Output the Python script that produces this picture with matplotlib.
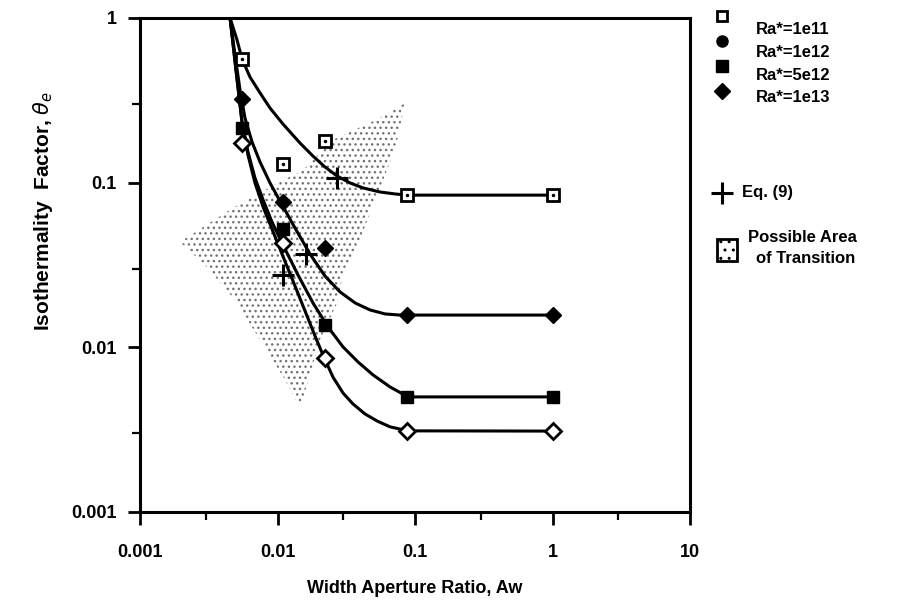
import matplotlib
matplotlib.use("Agg")
import matplotlib.pyplot as plt
from matplotlib.lines import Line2D
from matplotlib.patches import Polygon, Rectangle
from matplotlib.ticker import FixedLocator, NullFormatter

plt.rcParams['font.family'] = ['Liberation Sans', 'DejaVu Sans']
plt.rcParams['hatch.linewidth'] = 1.0

# measured points (Aw, theta_e)
aw = [0.0055, 0.011, 0.022, 0.088, 1.0]
ra_1e11 = [0.56, 0.13, 0.18, 0.084, 0.084]
ra_1e12 = [0.32, 0.076, 0.040, 0.0157, 0.0157]
ra_5e12 = [0.215, 0.052, 0.0137, 0.0050, 0.0050]
ra_1e13 = [0.174, 0.043, 0.0086, 0.0031, 0.0031]

# fitted curves
fit_1e11_x = [0.00452, 0.00508, 0.00552, 0.00631, 0.00746, 0.00882, 0.01096, 0.01458, 0.01812,
              0.02215, 0.0271, 0.0337, 0.0419, 0.0556, 0.0715, 0.0889, 1.0]
fit_1e11_y = [1.0, 0.735, 0.564, 0.438, 0.351, 0.284, 0.227, 0.174, 0.145,
              0.1245, 0.1098, 0.0996, 0.0929, 0.0878, 0.0854, 0.084, 0.084]
fit_1e12_x = [0.00452, 0.00491, 0.00534, 0.0058, 0.00653, 0.00746, 0.00882, 0.01042, 0.0134,
              0.01723, 0.02215, 0.0285, 0.0367, 0.0471, 0.0605, 0.0778, 0.0889, 1.0]
fit_1e12_y = [1.0, 0.596, 0.365, 0.247, 0.1767, 0.1336, 0.0996, 0.0774, 0.0531,
              0.0369, 0.0271, 0.0217, 0.0186, 0.01687, 0.01595, 0.0157, 0.0157, 0.0157]
fit_5e12_x = [0.00452, 0.00499, 0.00552, 0.0061, 0.00686, 0.00786, 0.00912, 0.01096, 0.0141,
              0.01812, 0.02328, 0.02996, 0.0385, 0.0495, 0.0658, 0.0889, 1.0]
fit_5e12_y = [1.0, 0.483, 0.2336, 0.1536, 0.1068, 0.0785, 0.0577, 0.0418, 0.0275,
              0.0186, 0.0133, 0.01006, 0.00815, 0.0068, 0.00575, 0.0050, 0.0050]
fit_1e13_x = [0.00452, 0.00499, 0.00552, 0.0061, 0.00686, 0.00786, 0.00912, 0.01078, 0.01296,
              0.01585, 0.01874, 0.0214, 0.0253, 0.02996, 0.0354, 0.0433, 0.053, 0.0658, 0.0889, 1.0]
fit_1e13_y = [1.0, 0.483, 0.2336, 0.1473, 0.0996, 0.0712, 0.0523, 0.0369, 0.0253,
              0.01664, 0.01173, 0.0090, 0.0066, 0.00528, 0.00453, 0.00394, 0.00357, 0.00329, 0.00311, 0.0031]

# Eq. (9) predictions
eq9_x = [0.011, 0.016, 0.027]
eq9_y = [0.0275, 0.037, 0.107]

# outline of the possible transition area
area_x = [0.00195, 0.00474, 0.0104, 0.0153, 0.0253, 0.0556, 0.0846, 0.0716, 0.0512, 0.0379,
          0.0299, 0.0271, 0.0204, 0.0172, 0.0146, 0.01135, 0.00746, 0.00491, 0.00297]
area_y = [0.0436, 0.0702, 0.101, 0.119, 0.182, 0.247, 0.305, 0.158, 0.0785, 0.0407,
          0.0275, 0.0186, 0.0111, 0.0068, 0.00429, 0.00634, 0.0111, 0.0194, 0.0316]

legend_labels = ['Ra*=1e11', 'Ra*=1e12', 'Ra*=5e12', 'Ra*=1e13']

W, H = 915, 603
fig = plt.figure(figsize=(W / 100, H / 100), dpi=100)
ax = fig.add_axes([140 / W, 1 - 512 / H, 550 / W, 494 / H])

ax.add_patch(Polygon(list(zip(area_x, area_y)), closed=True, facecolor='none',
                     edgecolor='0.45', lw=0, hatch='...', zorder=1))

lw = 2.2
for fx_, fy_ in [(fit_1e11_x, fit_1e11_y), (fit_1e12_x, fit_1e12_y),
                 (fit_5e12_x, fit_5e12_y), (fit_1e13_x, fit_1e13_y)]:
    ax.plot(fx_, fy_, color='black', lw=lw, solid_joinstyle='round', solid_capstyle='round', zorder=2)

ax.plot(aw, ra_1e11, ls='none', marker='s', ms=9, mfc='white', mec='black', mew=2, zorder=3)
ax.plot(aw, ra_1e11, ls='none', marker='.', ms=3, color='black', zorder=4)
ax.plot(aw, ra_1e12, ls='none', marker='D', ms=8, color='black', zorder=3)
ax.plot(aw, ra_5e12, ls='none', marker='s', ms=9, color='black', zorder=3)
ax.plot(aw, ra_1e13, ls='none', marker='D', ms=8, mfc='white', mec='black', mew=2, zorder=3)
ax.plot(eq9_x, eq9_y, ls='none', marker='+', ms=16, mew=2.2, color='black', zorder=5)

ax.set_xscale('log')
ax.set_yscale('log')
ax.set_xlim(0.001, 10)
ax.set_ylim(0.001, 1)

xt = [0.001, 0.01, 0.1, 1, 10]
yt = [0.001, 0.01, 0.1, 1]
ax.xaxis.set_major_locator(FixedLocator(xt))
ax.yaxis.set_major_locator(FixedLocator(yt))
ax.set_xticklabels(['0.001', '0.01', '0.1', '1', '10'])
ax.set_yticklabels(['0.001', '0.01', '0.1', '1'])
ax.xaxis.set_minor_locator(FixedLocator([0.003, 0.03, 0.3, 3]))
ax.yaxis.set_minor_locator(FixedLocator([0.003, 0.03, 0.3]))
ax.xaxis.set_minor_formatter(NullFormatter())
ax.yaxis.set_minor_formatter(NullFormatter())
ax.tick_params(which='major', direction='out', length=9, width=2, labelsize=13)
ax.tick_params(axis='x', which='major', pad=14)
ax.tick_params(axis='y', which='major', pad=8)
ax.tick_params(which='minor', direction='out', length=6, width=1.6)
for lab in ax.get_xticklabels() + ax.get_yticklabels():
    lab.set_fontweight('bold')
for sp in ax.spines.values():
    sp.set_linewidth(2.2)

ax.set_xlabel('Width Aperture Ratio, Aw', fontsize=13, fontweight='bold')
ax.xaxis.set_label_coords(0.5, -0.137)
ax.set_ylabel(r'Isothermality  Factor, $\theta_e$', fontsize=15, fontweight='bold')
ax.yaxis.set_label_coords(-0.155, 0.61)


# legend drawn by hand, outside the axes (pixel positions of the original)
def fx(px):
    return px / W


def fy(py):
    return 1 - py / H


leg_marks = [dict(marker='s', ms=7, mfc='white', mec='black', mew=2),
             dict(marker='o', ms=8, color='black'),
             dict(marker='s', ms=8, color='black'),
             dict(marker='D', ms=8, color='black')]
for i, (lab, st) in enumerate(zip(legend_labels, leg_marks)):
    fig.add_artist(Line2D([fx(722)], [fy(16 + 25 * i)], transform=fig.transFigure, ls='none', **st))
    fig.text(fx(756), fy(30 + 22.5 * i), lab, fontsize=12, fontweight='bold', va='center')

fig.add_artist(Line2D([fx(722)], [fy(193)], transform=fig.transFigure, ls='none',
                      marker='+', ms=16, mew=2.2, color='black'))
fig.text(fx(742), fy(193), 'Eq. (9)', fontsize=12, fontweight='bold', va='center')

fig.add_artist(Rectangle((fx(717), fy(261)), 20 / W, 22 / H, transform=fig.transFigure,
                         facecolor='white', edgecolor='black', lw=2, hatch='..'))
fig.text(fx(748), fy(237), 'Possible Area', fontsize=12, fontweight='bold', va='center')
fig.text(fx(756), fy(259), 'of Transition', fontsize=12, fontweight='bold', va='center')

fig.savefig('out.png', dpi=100)
